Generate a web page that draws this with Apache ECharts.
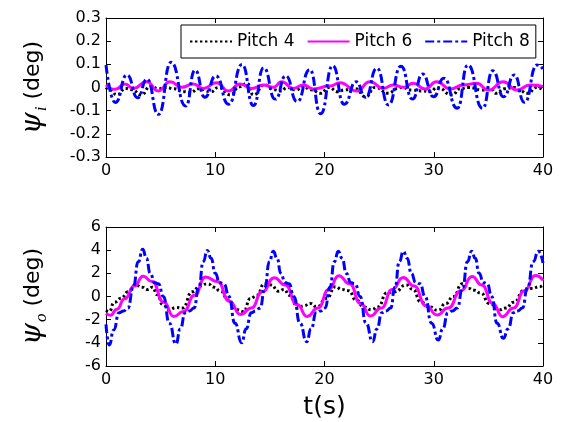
<!DOCTYPE html>
<html>
<head>
<meta charset="utf-8">
<script src="https://cdn.jsdelivr.net/npm/echarts@6/dist/echarts.min.js"></script>
<style>html,body{margin:0;padding:0;background:#fff}#c{width:561px;height:422px}</style>
</head>
<body>
<div id="c"></div>
<script>
// ---------- DATA ----------
const seriesNames = ['Pitch 4', 'Pitch 6', 'Pitch 8'];
const xTicks = [0, 10, 20, 30, 40];
const yTicksTop = [-0.3, -0.2, -0.1, 0, 0.1, 0.2, 0.3];
const yTicksBottom = [-6, -4, -2, 0, 2, 4, 6];

// Top panel: psi_i (deg)
const tTopP4 = [0, 0.4, 1.0, 1.8, 2.4, 3.2, 4.1, 4.8, 5.5, 6.2, 7.1, 7.7, 8.5, 9.6, 10.3, 11.4, 12.2, 12.9, 13.5, 14.5, 15.4, 16.0, 16.6, 17.4, 18.0, 18.8, 19.65, 20.4, 21.2, 21.9, 22.8, 23.8, 24.6, 25.9, 26.6, 27.1, 28.0, 28.9, 29.7, 30.3, 31.7, 32.4, 33.2, 34.45, 35.2, 35.7, 36.5, 37.4, 37.9, 38.6, 39.4, 40];
const vTopP4 = [0.0, -0.01, -0.032, -0.004, -0.01, -0.032, 0.006, -0.005, 0.0, -0.005, -0.018, -0.022, -0.005, -0.018, 0.0, -0.032, 0.003, 0.018, -0.032, 0.011, -0.01, -0.015, 0.0, -0.011, 0.005, -0.01, -0.025, 0.0, -0.018, -0.01, -0.005, -0.04, 0.0, -0.025, -0.005, 0.0, -0.011, -0.015, -0.018, 0.0, -0.032, -0.005, 0.0, -0.011, -0.005, -0.025, -0.005, 0.0, -0.015, -0.025, 0.0, -0.01];

const tTopP6 = [0, 0.82, 1.74, 2.5, 3.72, 4.79, 5.86, 6.93, 7.99, 8.91, 10.13, 11.2, 12.27, 13.33, 14.4, 15.32, 16.08, 17.15, 18.06, 18.98, 20.5, 21.42, 22.94, 24.16, 25.39, 26.3, 27.22, 28.13, 29.2, 30.27, 31.49, 32.71, 33.93, 35.0, 36.37, 37.6, 38.82, 40];
const vTopP6 = [0.011, -0.008, 0.015, -0.004, 0.025, -0.015, 0.025, 0.001, 0.015, -0.004, 0.021, -0.015, 0.015, -0.004, 0.011, 0.001, 0.025, -0.004, 0.011, -0.006, 0.006, 0.021, -0.015, 0.025, -0.004, 0.011, 0.001, 0.018, -0.006, 0.025, -0.006, 0.011, 0.018, -0.011, 0.025, -0.011, 0.011, 0.005];

const tTopP8 = [0, 0.85, 1.92, 2.9, 3.75, 4.8, 5.96, 7.3, 8.15, 9.05, 10.05, 11.23, 12.45, 13.5, 14.43, 15.5, 16.45, 17.5, 18.65, 19.65, 20.75, 21.8, 22.9, 23.75, 24.8, 25.85, 27.0, 28.05, 28.97, 29.98, 30.92, 32.15, 33.12, 34.47, 35.4, 36.4, 37.37, 38.3, 39.45, 40];
const vTopP8 = [0.097, -0.065, 0.054, -0.044, 0.036, -0.116, 0.109, -0.08, 0.075, -0.042, 0.05, -0.072, 0.099, -0.078, 0.085, -0.05, 0.05, -0.061, 0.077, -0.113, 0.094, -0.072, 0.025, -0.042, 0.083, -0.075, 0.092, -0.05, 0.058, -0.04, 0.04, -0.09, 0.097, -0.09, 0.072, -0.04, 0.054, -0.064, 0.097, 0.08];

// Bottom panel: psi_o (deg)
const tBotP4 = [0, 0.3, 0.75, 1.4, 2.0, 2.7, 3.3, 3.8, 4.25, 4.7, 5.2, 5.8, 6.4, 7.0, 7.9, 8.6, 9.3, 9.9, 10.5, 11.2, 12.0, 12.6, 13.2, 13.8, 14.5, 15.1, 15.8, 16.3, 16.8, 17.6, 18.1, 18.7, 19.3, 20.2, 21.0, 21.6, 22.2, 22.9, 23.6, 24.3, 24.9, 25.7, 26.4, 27.5, 28.1, 28.8, 29.6, 30.4, 31.1, 31.8, 32.6, 33.2, 33.7, 34.3, 35.1, 36.0, 36.6, 37.3, 38.3, 39.0, 39.7, 40];
const vBotP4 = [-1.2, -1.3, -0.5, -0.15, 0.4, 1.0, 0.8, 0.6, 0.8, 0.15, -0.7, -1.15, -0.95, -1.0, 0.4, 0.9, 1.1, 0.8, 0.45, -0.3, -1.15, -1.3, -0.2, 0.1, 1.1, 1.0, 0.45, 0.6, 0.1, -1.0, -0.8, -0.6, -0.9, -0.15, 0.85, 0.6, 0.5, -0.3, -0.9, -1.15, -0.9, 0.3, 0.4, 1.0, 0.6, -0.45, -0.9, -1.2, -0.6, 0.0, 1.1, 0.7, 0.55, 0.3, -0.6, -1.15, -1.0, -0.5, 0.55, 0.7, 0.85, 1.0];

const tBotP6 = [0, 0.4, 1.0, 1.7, 2.6, 3.4, 4.2, 5.3, 6.2, 7.1, 8.1, 9.1, 10.2, 11.3, 12.3, 13.3, 14.3, 15.4, 16.4, 17.5, 18.4, 19.4, 20.4, 21.3, 22.3, 23.3, 24.2, 25.2, 26.2, 27.2, 28.2, 29.3, 30.3, 31.3, 32.5, 33.5, 34.4, 35.4, 36.3, 37.3, 38.3, 39.3, 40];
const vBotP6 = [-1.45, -1.62, -1.1, -0.2, 0.9, 1.75, 1.3, -0.5, -1.72, -1.3, 0.1, 1.68, 1.3, -0.4, -1.55, -1.0, 0.4, 1.62, 1.0, -0.7, -1.72, -1.0, 0.6, 1.8, 1.1, -0.6, -1.68, -1.0, 0.6, 1.65, 0.9, -0.8, -1.6, -1.0, 0.5, 1.72, 1.0, -0.6, -1.74, -1.0, 0.5, 1.82, 1.4];

const tBotP8 = [0, 0.3, 0.7, 1.2, 1.6, 2.0, 2.5, 2.95, 3.36, 3.7, 4.05, 4.45, 4.8, 5.25, 5.8, 6.4, 6.8, 7.25, 7.65, 8.05, 8.5, 8.9, 9.27, 9.62, 10.0, 10.4, 10.8, 11.25, 11.8, 12.42, 12.82, 13.3, 13.7, 14.1, 14.55, 14.95, 15.31, 15.66, 16.0, 16.4, 16.75, 17.2, 17.75, 18.37, 18.77, 19.25, 19.65, 20.05, 20.5, 20.9, 21.26, 21.61, 22.0, 22.4, 22.8, 23.25, 23.8, 24.41, 24.8, 25.25, 25.65, 26.05, 26.45, 26.85, 27.22, 27.57, 27.95, 28.35, 28.75, 29.2, 29.8, 30.42, 30.82, 31.3, 31.7, 32.15, 32.65, 33.08, 33.47, 33.8, 34.15, 34.55, 34.9, 35.3, 35.8, 36.37, 36.8, 37.3, 37.7, 38.1, 38.6, 39.1, 39.57, 40];
const vBotP8 = [-2.4, -4.19, -2.9, -1.4, -1.25, -1.0, 0.8, 3.0, 4.07, 3.3, 2.0, 1.2, 1.1, 0.0, -2.3, -4.1, -2.8, -1.4, -1.25, -1.0, 0.8, 3.0, 3.97, 3.3, 2.0, 1.2, 1.1, 0.0, -2.3, -3.99, -2.8, -1.4, -1.25, -1.0, 0.8, 3.0, 3.9, 3.3, 2.0, 1.2, 1.1, 0.0, -2.3, -3.9, -2.8, -1.4, -1.25, -1.0, 0.8, 3.0, 3.9, 3.3, 2.0, 1.2, 1.1, 0.0, -2.3, -3.9, -2.8, -1.4, -1.25, -1.0, 0.8, 3.0, 3.9, 3.3, 2.0, 1.2, 1.1, 0.0, -2.3, -3.76, -2.8, -1.4, -1.25, -1.0, 0.8, 3.0, 3.9, 3.3, 2.0, 1.2, 1.1, 0.0, -2.3, -3.61, -2.8, -1.4, -1.25, -1.0, 0.8, 3.0, 3.9, 2.9];

// ---------- CHART ----------
const zip = (t, v) => t.map((x, i) => [x, v[i]]);
const FONT = 'DejaVu Sans';
const styles = [
  { color: '#000000', type: [2.4, 2.6] },
  { color: '#ff00ff', type: 'solid' },
  { color: '#0000ff', type: [9, 3, 3, 3] }
];
const fmt = v => Math.abs(v) < 1e-9 ? '0' : (Math.abs(v) < 1 ? v.toFixed(1) : String(Math.round(v)));

function xAx(grid, pos, labels, name) {
  return {
    type: 'value', gridIndex: grid, position: pos, min: xTicks[0], max: xTicks[xTicks.length - 1], interval: 10,
    axisLine: { show: true, onZero: false, lineStyle: { color: '#000', width: 1 } },
    axisTick: { show: true, inside: true, length: 5, lineStyle: { color: '#000' } },
    axisLabel: { show: labels, color: '#000', fontFamily: FONT, fontSize: 16, margin: 6 },
    splitLine: { show: false },
    name: name || '', nameLocation: 'middle', nameGap: 29,
    nameTextStyle: { color: '#000', fontFamily: FONT, fontSize: 25 }
  };
}
function yAx(grid, pos, ticks, labels, sub) {
  return {
    type: 'value', gridIndex: grid, position: pos, min: ticks[0], max: ticks[ticks.length - 1],
    interval: ticks[1] - ticks[0],
    axisLine: { show: true, onZero: false, lineStyle: { color: '#000', width: 1 } },
    axisTick: { show: true, inside: true, length: 5, lineStyle: { color: '#000' } },
    axisLabel: { show: labels, color: '#000', fontFamily: FONT, fontSize: 16, margin: 5, formatter: fmt },
    splitLine: { show: false },
    name: labels ? '{psi|ψ}{sub|' + sub + '}{n| (deg)}' : '',
    nameLocation: 'middle', nameGap: 56, nameRotate: 90,
    nameTextStyle: {
      color: '#000',
      rich: {
        psi: { fontFamily: 'DejaVu Serif', fontStyle: 'italic', fontSize: 28, color: '#000', lineHeight: 34, verticalAlign: 'middle' },
        sub: { fontFamily: 'Liberation Serif', fontStyle: 'italic', fontSize: 17, color: '#000', lineHeight: 34, verticalAlign: 'bottom', padding: [0, 0, 0, 1] },
        n: { fontFamily: FONT, fontSize: 22, color: '#000', lineHeight: 34, verticalAlign: 'middle' }
      }
    }
  };
}

function mk(name, idx, grid, t, v) {
  return {
    name: name, type: 'line', xAxisIndex: grid * 2, yAxisIndex: grid * 2,
    data: zip(t, v), showSymbol: false, symbol: 'none', smooth: 0.55, smoothMonotone: 'x',
    lineStyle: { color: styles[idx].color, width: 3, type: styles[idx].type },
    itemStyle: { color: styles[idx].color },
    animation: false, z: 2 + idx
  };
}

const chart = echarts.init(document.getElementById('c'), null, { renderer: 'canvas' });
chart.setOption({
  backgroundColor: '#ffffff',
  animation: false,
  grid: [
    { left: 106, top: 18, width: 437, height: 139 },
    { left: 106, top: 227, width: 437, height: 139 }
  ],
  legend: {
    data: seriesNames, left: 181, top: 25, itemWidth: 42, itemHeight: 14, itemGap: 12,
    borderColor: '#000', borderWidth: 1, backgroundColor: '#fff', padding: [8, 6, 8, 8],
    itemStyle: { opacity: 0 },
    textStyle: { fontFamily: FONT, fontSize: 17, color: '#000' }, z: 10
  },
  xAxis: [xAx(0, 'bottom', true), xAx(0, 'top', false), xAx(1, 'bottom', true, 't(s)'), xAx(1, 'top', false)],
  yAxis: [yAx(0, 'left', yTicksTop, true, 'i'), yAx(0, 'right', yTicksTop, false), yAx(1, 'left', yTicksBottom, true, 'o'), yAx(1, 'right', yTicksBottom, false)],
  series: [
    mk(seriesNames[0], 0, 0, tTopP4, vTopP4),
    mk(seriesNames[1], 1, 0, tTopP6, vTopP6),
    mk(seriesNames[2], 2, 0, tTopP8, vTopP8),
    mk(seriesNames[0], 0, 1, tBotP4, vBotP4),
    mk(seriesNames[1], 1, 1, tBotP6, vBotP6),
    mk(seriesNames[2], 2, 1, tBotP8, vBotP8)
  ]
});
</script>
</body>
</html>
